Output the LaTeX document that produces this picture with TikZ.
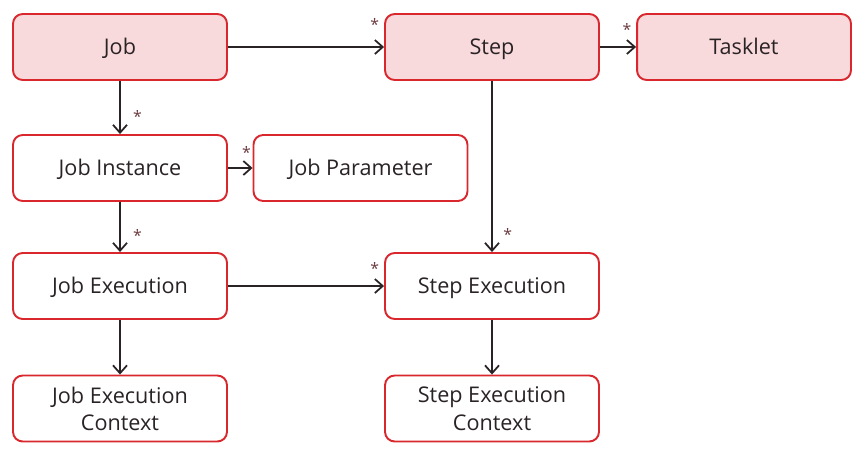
\documentclass[tikz,border=0pt]{standalone}
\usepackage{fontspec}
\setmainfont{Open Sans}
\usepackage{xcolor}
\usetikzlibrary{positioning,arrows.meta}

\definecolor{boxred}{HTML}{D9272D}
\definecolor{boxpink}{HTML}{F9DADC}
\definecolor{linedark}{HTML}{2A2326}
\definecolor{stardark}{HTML}{6B3A3E}

\begin{document}
\begin{tikzpicture}[x=0.02cm,y=-0.02cm]
\tikzset{
  entity/.style={draw=boxred, line width=1.1pt, rounded corners=5.5pt, fill=white,
    minimum width=4.28cm, minimum height=1.32cm, align=center, text=linedark,
    font=\fontsize{12.3}{15.5}\selectfont, inner sep=2pt},
  oneline/.style={text height=8.8pt, text depth=0pt},
  twoline/.style={text depth=0pt},
  mainentity/.style={entity, oneline, fill=boxpink},
  link/.style={draw=linedark, line width=1pt, -{Straight Barb[length=4.5pt,width=8pt]}},
  starlbl/.style={font=\fontsize{9}{9}\selectfont, text=stardark, inner sep=1pt}
}
\useasboundingbox (0,0) rectangle (864,457);
% top row
\node [mainentity] (job) at (120,47) {Job};
\node [mainentity] (step) at (492,47) {Step};
\node [mainentity] (tasklet) at (744,47) {Tasklet};
% instances and executions
\node [entity, oneline] (jobinst) at (120,168) {Job Instance};
\node [entity, oneline] (jobparam) at (360.5,168) {Job Parameter};
\node [entity, oneline] (jobexec) at (120,286) {Job Execution};
\node [entity, oneline] (stepexec) at (492,286) {Step Execution};
\node [entity, twoline] (jobctx) at (120,408.5) {Job Execution\\Context};
\node [entity, twoline] (stepctx) at (492,408.5) {Step Execution\\Context};
% connectors
\draw [link] (job) -- node [starlbl, pos=0.66, right=6pt] {*} (jobinst);
\draw [link] (job) -- node [starlbl, pos=0.94, above=8pt] {*} (step);
\draw [link] (step) -- node [starlbl, pos=0.75, above=5pt] {*} (tasklet);
\draw [link] (jobinst) -- node [starlbl, pos=0.75, above=4pt] {*} (jobparam);
\draw [link] (jobinst) -- node [starlbl, pos=0.66, right=6pt] {*} (jobexec);
\draw [link] (jobexec) -- node [starlbl, pos=0.94, above=5pt] {*} (stepexec);
\draw [link] (step) -- node [starlbl, pos=0.9, right=5pt] {*} (stepexec);
\draw [link] (jobexec) -- (jobctx);
\draw [link] (stepexec) -- (stepctx);
\end{tikzpicture}
\end{document}
